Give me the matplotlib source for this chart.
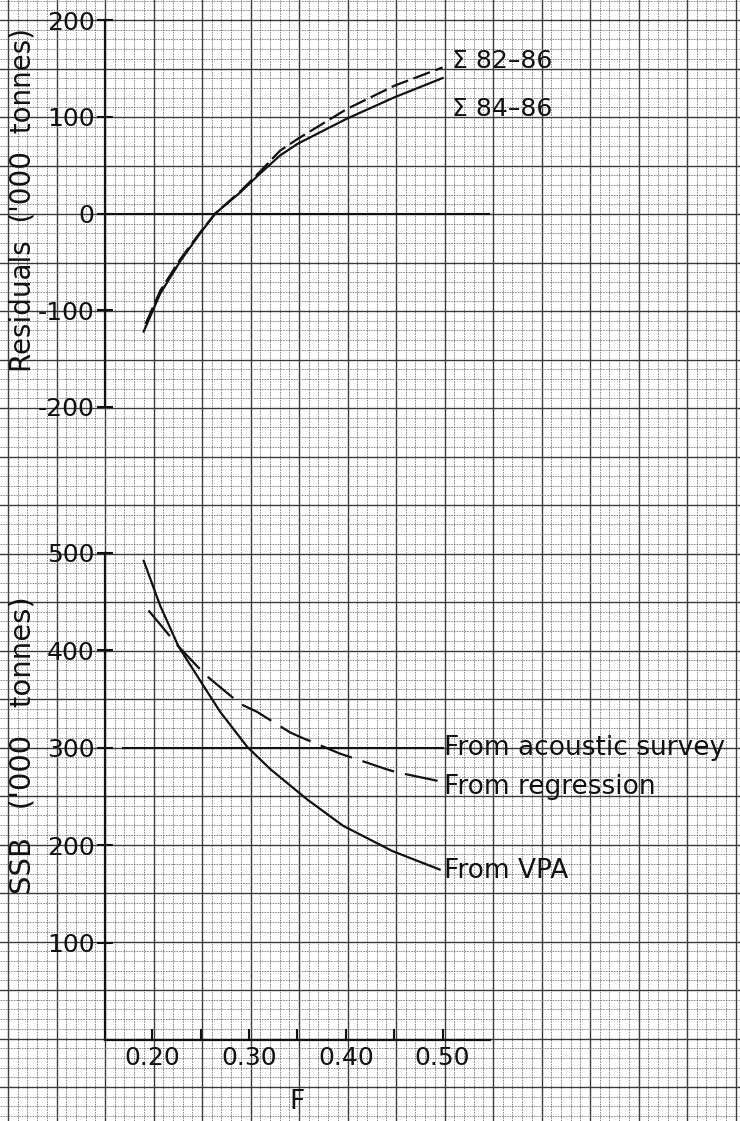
import numpy as np
import matplotlib.pyplot as plt

# ---- data ----
# top panel: residuals ('000 tonnes) vs F
f_res84 = [0.191, 0.208, 0.229, 0.249, 0.265, 0.291, 0.311, 0.332, 0.35, 0.401, 0.45, 0.50]
res84 = [-122, -83, -49, -21, 0, 22, 41, 60, 72, 98, 120, 140]
f_res82 = [0.193, 0.208, 0.229, 0.249, 0.265, 0.291, 0.311, 0.332, 0.35, 0.401, 0.45, 0.50]
res82 = [-114, -80, -47, -20, 0, 23, 43, 65, 77, 108, 132, 151]

# bottom panel: SSB ('000 tonnes) vs F
f_vpa = [0.191, 0.208, 0.227, 0.25, 0.27, 0.298, 0.322, 0.36, 0.397, 0.448, 0.497]
ssb_vpa = [492, 446, 404, 368, 337, 301, 278, 247, 220, 194, 175]
f_reg = [0.196, 0.227, 0.246, 0.257, 0.291, 0.308, 0.342, 0.353, 0.394, 0.406, 0.442, 0.452, 0.50]
ssb_reg = [441, 404, 384, 373, 345, 337, 316, 311, 294, 290, 278, 275, 265]
f_acoustic = [0.17, 0.50]
ssb_acoustic = [300, 300]

xticks = [0.20, 0.30, 0.40, 0.50]
xtick_labels = ['0.20', '0.30', '0.40', '0.50']
xminor = [0.25, 0.35, 0.45]
res_ticks = [200, 100, 0, -100, -200]
res_tick_labels = ['200', '100', '0', '-100', '-200']
ssb_ticks = [100, 200, 300, 400, 500]
ssb_tick_labels = ['100', '200', '300', '400', '500']

W, H = 740, 1121
ink = '#111111'

fig = plt.figure(figsize=(W / 100, H / 100), dpi=100)
fig.patch.set_facecolor('white')

# graph paper background (pixel coordinates)
bg = fig.add_axes([0, 0, 1, 1], zorder=-5)
bg.set_xlim(0, W)
bg.set_ylim(H, 0)
bg.axis('off')
step = 48.5
x0, y0 = 105 - 2 * step, 20 - step
for k in range(80):
    xv = x0 + k * step / 5
    if xv > W:
        break
    if k % 5 == 0:
        bg.axvline(xv, color='#3a3a3a', lw=1.0)
    else:
        bg.axvline(xv, color='#777777', lw=0.6, ls=(0, (2, 1.2)))
for k in range(130):
    yv = y0 + k * step / 5
    if yv > H:
        break
    if k % 5 == 0:
        bg.axhline(yv, color='#3a3a3a', lw=1.0)
    else:
        bg.axhline(yv, color='#777777', lw=0.6, ls=(0, (2, 1.2)))

xlim = (0.151, 0.549)
left = 105 / W
width = 385 / W

# ---- top panel ----
ax1 = fig.add_axes([left, 1 - 407 / H, width, 387 / H])
ax1.set_facecolor('none')
ax1.set_xlim(*xlim)
ax1.set_ylim(-200, 200)
for s in ['top', 'right', 'bottom']:
    ax1.spines[s].set_visible(False)
ax1.spines['left'].set_linewidth(1.6)
ax1.spines['left'].set_color(ink)
ax1.set_xticks([])
ax1.set_yticks(res_ticks)
ax1.set_yticklabels(res_tick_labels)
ax1.tick_params(axis='y', direction='inout', length=11, width=1.5, labelsize=18,
                pad=2, colors=ink)
ax1.axhline(0, color=ink, lw=1.5)
ax1.plot(f_res84, res84, color=ink, lw=1.6)
ax1.plot(f_res82, res82, color=ink, lw=1.6, dashes=(8, 2.5))
ax1.text(0.51, 158, 'Σ 82–86', fontsize=18, va='center', ha='left', color=ink)
ax1.text(0.51, 108, 'Σ 84–86', fontsize=18, va='center', ha='left', color=ink)
ax1.set_ylabel("Residuals  ('000  tonnes)", fontsize=20, color=ink)
ax1.yaxis.set_label_coords(-0.178, 0.535)

# ---- bottom panel ----
ax2 = fig.add_axes([left, 1 - 1040 / H, width, 487 / H])
ax2.set_facecolor('none')
ax2.set_xlim(*xlim)
ax2.set_ylim(0, 500)
for s in ['top', 'right']:
    ax2.spines[s].set_visible(False)
for s in ['left', 'bottom']:
    ax2.spines[s].set_linewidth(1.6)
    ax2.spines[s].set_color(ink)
ax2.set_xticks(xticks)
ax2.set_xticklabels(xtick_labels)
ax2.set_xticks(xminor, minor=True)
ax2.set_yticks(ssb_ticks)
ax2.set_yticklabels(ssb_tick_labels)
ax2.tick_params(axis='x', which='both', direction='in', length=8, width=1.5,
                labelsize=18, pad=4, colors=ink)
ax2.tick_params(axis='y', direction='inout', length=11, width=1.5, labelsize=18,
                pad=2, colors=ink)
ax2.plot(f_acoustic, ssb_acoustic, color=ink, lw=1.5)
ax2.plot(f_reg, ssb_reg, color=ink, lw=1.6, dashes=(15, 5))
ax2.plot(f_vpa, ssb_vpa, color=ink, lw=1.6)
ax2.text(0.501, 300, 'From acoustic survey', fontsize=19, va='center', ha='left', color=ink)
ax2.text(0.501, 260, 'From regression', fontsize=19, va='center', ha='left', color=ink)
ax2.text(0.501, 174, 'From VPA', fontsize=19, va='center', ha='left', color=ink)
ax2.set_ylabel("SSB   ('000   tonnes)", fontsize=21, color=ink)
ax2.yaxis.set_label_coords(-0.178, 0.606)
ax2.set_xlabel('F', fontsize=19, color=ink)
ax2.xaxis.set_label_coords(0.5, -0.10)

fig.savefig('out.png', dpi=100)
